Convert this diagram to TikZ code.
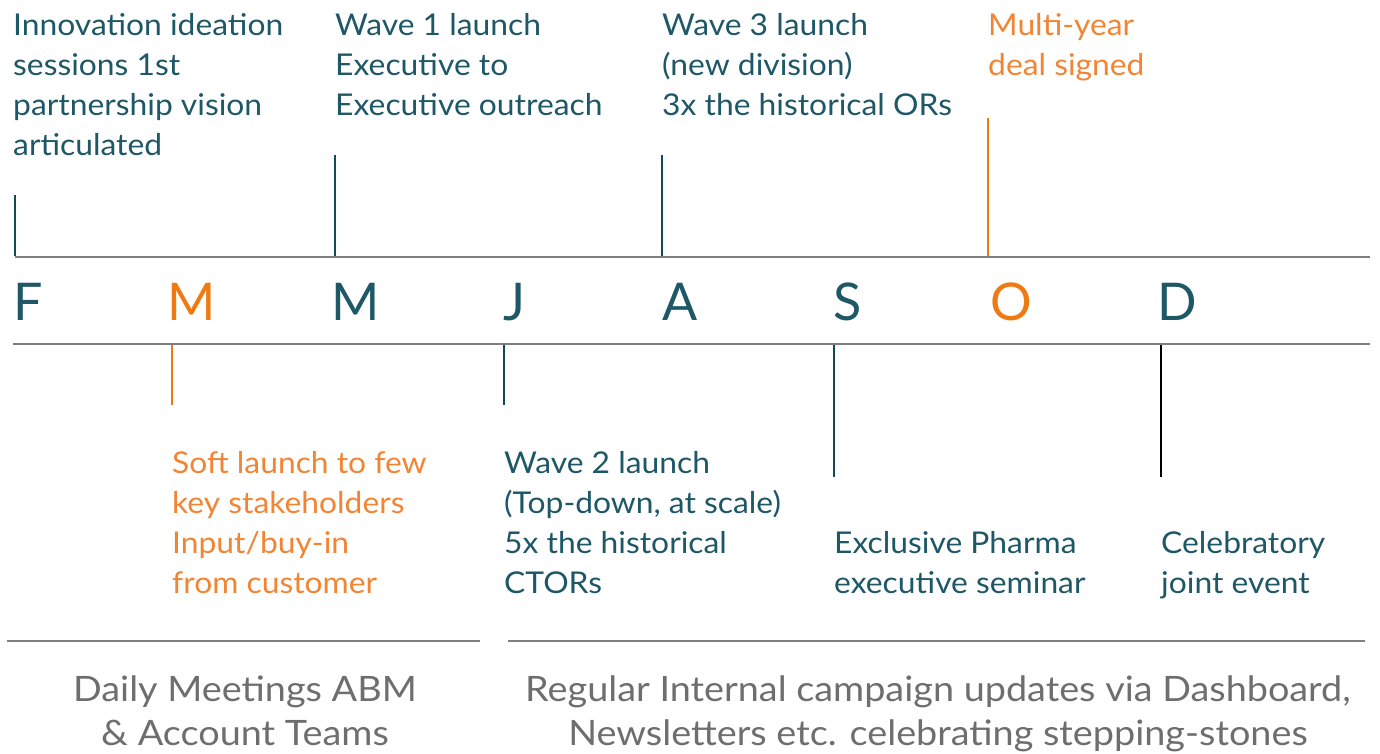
\documentclass[tikz,border=0pt]{standalone}
\usepackage{fontspec}
\setmainfont{Lato}
\newfontfamily\lblfont{Lato}[FakeStretch=1.06]
\newfontfamily\footfont{Lato}[FakeStretch=1.08]
\definecolor{teal}{HTML}{1E5766}
\definecolor{tealline}{HTML}{0F4A58}
\definecolor{orng}{HTML}{F28534}
\definecolor{orngline}{HTML}{F07A12}
\definecolor{axisgray}{HTML}{7F7F7F}
\definecolor{txtgray}{HTML}{6E6E6E}
\begin{document}
\begin{tikzpicture}[x=1pt,y=-1pt,
  lbl/.style={anchor=base west,inner sep=0pt,align=left,font=\lblfont\fontsize{30}{40}\selectfont},
  month/.style={anchor=base west,inner sep=0pt,font=\fontsize{52}{60}\selectfont,text=teal},
  axis/.style={draw=axisgray,line width=2.6pt},
  tick/.style={line width=2pt},
  foot/.style={anchor=base,inner sep=0pt,align=center,text=txtgray,font=\footfont\fontsize{35}{44}\selectfont}]
\useasboundingbox (0,0) rectangle (1380,754);
% axes
\coordinate (a1l) at (15,257); \coordinate (a1r) at (1370,257);
\coordinate (a2l) at (13,344); \coordinate (a2r) at (1370,344);
\draw[axis] (a1l) -- (a1r);
\draw[axis] (a2l) -- (a2r);
% months
\node[month] (mF) at (13,320) {F};
\node[month,text=orngline] (mM1) at (167,320) {M};
\node[month] (mM2) at (331,320) {M};
\node[month] (mJ) at (503,320) {J};
\node[month] (mA) at (662,320) {A};
\node[month] (mS) at (833,320) {S};
\node[month,text=orngline] (mO) at (990,320) {O};
\node[month] (mD) at (1157,320) {D};
% ticks above
\coordinate (tF1) at (15,195); \coordinate (tF2) at (15,256);
\coordinate (tM1) at (335,155); \coordinate (tM2) at (335,256);
\coordinate (tA1) at (662,155); \coordinate (tA2) at (662,256);
\coordinate (tO1) at (988,118); \coordinate (tO2) at (988,256);
\draw[tick,tealline] (tF1) -- (tF2);
\draw[tick,tealline] (tM1) -- (tM2);
\draw[tick,tealline] (tA1) -- (tA2);
\draw[tick,orngline] (tO1) -- (tO2);
% ticks below
\coordinate (bM1) at (172,345); \coordinate (bM2) at (172,405);
\coordinate (bJ1) at (504,345); \coordinate (bJ2) at (504,405);
\coordinate (bS1) at (834,345); \coordinate (bS2) at (834,477);
\coordinate (bD1) at (1161,345); \coordinate (bD2) at (1161,477);
\draw[tick,orngline] (bM1) -- (bM2);
\draw[tick,tealline] (bJ1) -- (bJ2);
\draw[tick,tealline] (bS1) -- (bS2);
\draw[tick,black] (bD1) -- (bD2);
% top labels (anchor = baseline of last line)
\node[lbl,text=teal] (l1) at (13,156) {Innovation ideation\\sessions 1st\\partnership vision\\articulated};
\node[lbl,text=teal] (l2) at (335,116) {Wave 1 launch\\Executive to\\Executive outreach};
\node[lbl,text=teal] (l3) at (662,116) {Wave 3 launch\\(new division)\\3x the historical ORs};
\node[lbl,text=orng] (l4) at (988,76) {Multi-year\\deal signed};
% bottom labels
\node[lbl,text=orng] (l5) at (172,593) {Soft launch to few\\key stakeholders\\Input/buy-in\\from customer};
\node[lbl,text=teal] (l6) at (504,593) {Wave 2 launch\\(Top-down, at scale)\\5x the historical\\CTORs};
\node[lbl,text=teal] (l7) at (834,593) {Exclusive Pharma\\executive seminar};
\node[lbl,text=teal] (l8) at (1161,593) {Celebratory\\joint event};
% footer
\coordinate (f1l) at (7,641); \coordinate (f1r) at (480,641);
\coordinate (f2l) at (508,641); \coordinate (f2r) at (1365,641);
\draw[axis,line width=2.2pt] (f1l) -- (f1r);
\draw[axis,line width=2.2pt] (f2l) -- (f2r);
\node[foot] (ft1) at (245,745) {Daily Meetings ABM\\\& Account Teams};
\node[foot] (ft2) at (938,745) {Regular Internal campaign updates via Dashboard,\\Newsletters etc. celebrating stepping-stones};
\end{tikzpicture}
\end{document}
